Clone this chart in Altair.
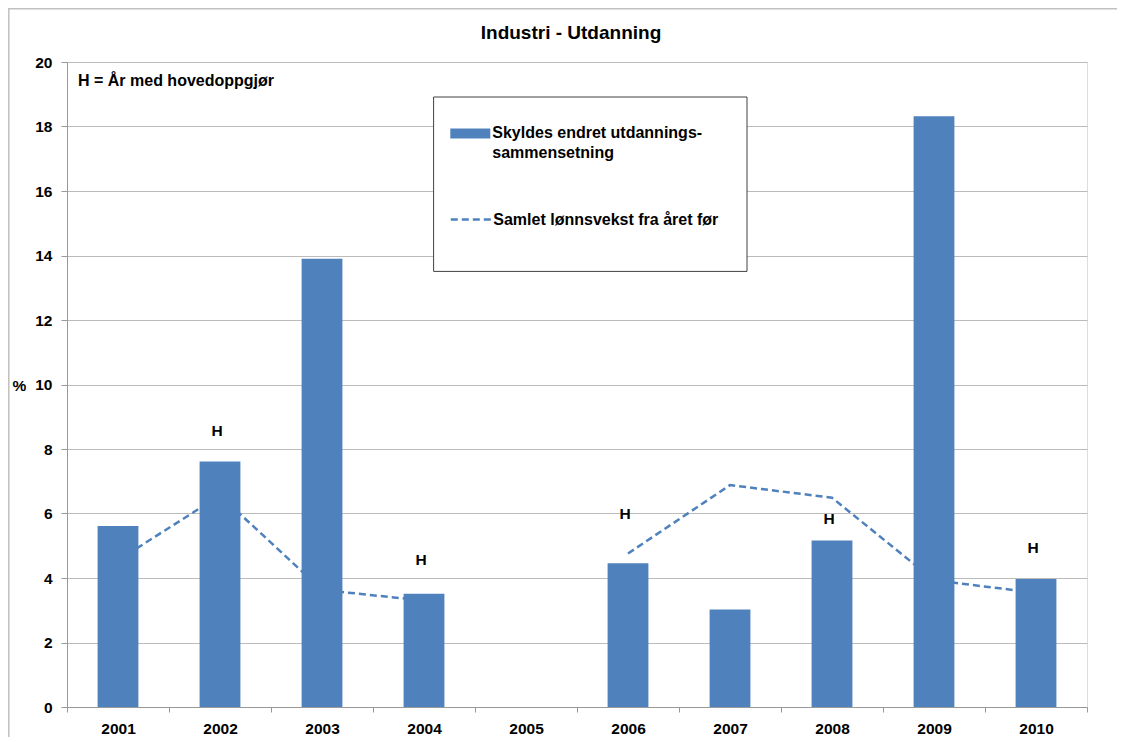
import altair as alt
import pandas as pd

years = ["2001", "2002", "2003", "2004", "2005", "2006", "2007", "2008", "2009", "2010"]
bar_values = [5.61, 7.61, 13.90, 3.51, None, 4.46, 3.02, 5.16, 18.32, 3.97]
line_values = [4.55, 6.56, 3.63, 3.30, None, 4.76, 6.88, 6.49, 3.93, 3.54]
h_years = ["2002", "2004", "2006", "2008", "2010"]
h_levels = [8.56, 4.55, 5.99, 5.82, 4.94]
bar_series = "Skyldes endret utdannings-sammensetning"
line_series = "Samlet lønnsvekst fra året før"
title_text = "Industri - Utdanning"
note_text = "H = År med hovedoppgjør"
note_level = [19.42]

FONT = "Liberation Sans"
BLUE = "#4f81bd"

df = pd.DataFrame({"year": years, "bar": bar_values, "line": line_values})
hdf = pd.DataFrame({"year": h_years, "y": h_levels, "t": ["H"] * len(h_years)})
ndf = pd.DataFrame({"y": note_level, "t": [note_text]})
one = pd.DataFrame({"k": [0]})

x_axis = alt.Axis(title=None, labelAngle=0, tickBand="extent", grid=False,
                  domainColor="#999999", tickColor="#999999", tickSize=5,
                  labelPadding=9, labelFont=FONT, labelFontSize=15.5,
                  labelFontWeight="bold", labelColor="black")
y_axis = alt.Axis(values=list(range(0, 21, 2)), title="%", titleAngle=0,
                  titleAlign="left", titleBaseline="middle", titleX=-55, titleY=323,
                  titleFont=FONT, titleFontSize=15.5, titleFontWeight="bold",
                  titleColor="black", grid=True, gridColor="#bbbbbb", gridWidth=1,
                  domainColor="#999999", tickColor="#999999", tickSize=6,
                  labelPadding=9, labelFont=FONT, labelFontSize=15.5,
                  labelFontWeight="bold", labelColor="black")
x_scale = alt.Scale(type="band", domain=years, paddingInner=0, paddingOuter=0)
y_scale = alt.Scale(domain=[0, 20], nice=False)


def X():
    return alt.X("year:O", scale=x_scale, axis=x_axis)


def Y(field):
    return alt.Y(f"{field}:Q", scale=y_scale, axis=y_axis)


line = alt.Chart(df).transform_calculate(series=f"'{line_series}'").mark_line(
    color=BLUE, strokeWidth=2.5, invalid="break-paths-show-domains"
).encode(
    x=X(), y=Y("line"),
    strokeDash=alt.StrokeDash("series:N", scale=alt.Scale(domain=[line_series], range=[[7, 4]]),
                              legend=alt.Legend(orient="none", legendX=382.3, legendY=136,
                                                padding=0, title=None, symbolType="stroke",
                                                symbolSize=1600, symbolStrokeColor=BLUE,
                                                symbolStrokeWidth=2.5, labelFont=FONT,
                                                labelFontSize=16, labelFontWeight="bold",
                                                labelColor="black", labelOffset=1, labelLimit=500)),
)

bars = alt.Chart(df).transform_calculate(series=f"'{bar_series}'").mark_bar(
    width={"band": 0.4}
).encode(
    x=X(), y=Y("bar"),
    fill=alt.Fill("series:N", scale=alt.Scale(domain=[bar_series], range=[BLUE]),
                  legend=alt.Legend(orient="none", legendX=382.3, legendY=50.4,
                                    padding=0, title=None,
                                    symbolType="M-1,-0.25H1V0.25H-1Z",
                                    symbolSize=1600, labelFont=FONT,
                                    labelFontSize=16, labelFontWeight="bold",
                                    labelColor="black", labelOffset=1, labelLimit=500,
                                    labelExpr=f"datum.label == '{bar_series}' ? ['Skyldes endret utdannings-', 'sammensetning'] : datum.label")),
)

hlabels = alt.Chart(hdf).mark_text(font=FONT, fontSize=15.5, fontWeight="bold",
                                   color="black", dx=-3, baseline="middle").encode(
    x=X(), y=Y("y"), text="t:N")

note = alt.Chart(ndf).mark_text(font=FONT, fontSize=16, fontWeight="bold", color="black",
                                align="left", baseline="middle").encode(
    x=alt.value(11), y=Y("y"), text="t:N")

legend_box = alt.Chart(one).mark_rect(fill="white", stroke="#404040", strokeWidth=1).encode(
    x=alt.value(366.6), x2=alt.value(680), y=alt.value(35), y2=alt.value(209.4))

frame = alt.Chart(one).mark_rect(filled=False, stroke="#c0c0c0", strokeWidth=1.5).encode(
    x=alt.value(-58.2), x2=alt.value(1100), y=alt.value(-53.2), y2=alt.value(700))

chart = alt.layer(line, bars, hlabels, note, legend_box, frame).properties(
    width=1020, height=645,
    autosize=alt.AutoSizeParams(type="none"),
    padding={"left": 59, "top": 54, "right": 30, "bottom": 30},
    title=alt.Title(title_text, font=FONT, fontSize=19, fontWeight="bold", color="black",
                    anchor="middle", dx=-6, baseline="alphabetic", offset=-49.5),
).configure_view(stroke=None).configure(
    style={"guide-label": {"lineHeight": 20}}
)

chart.save("out.html", embed_options={"renderer": "svg", "actions": False})
